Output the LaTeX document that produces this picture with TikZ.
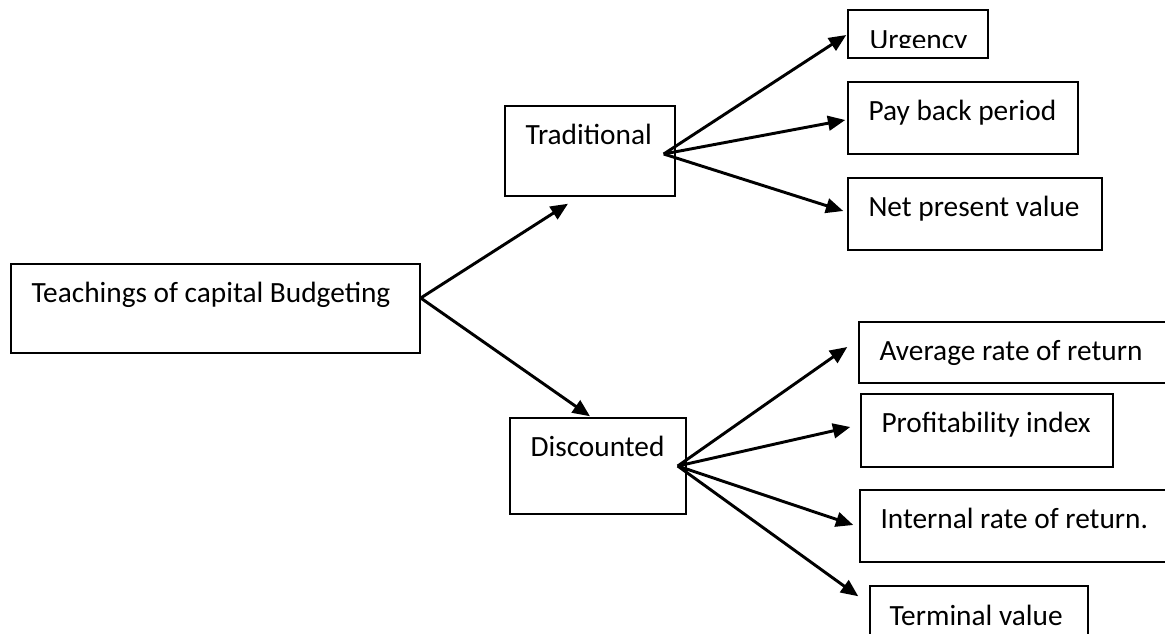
\documentclass[tikz,border=0pt]{standalone}
\usepackage{fontspec}
\setmainfont{Carlito}
\usetikzlibrary{arrows.meta,fit}

\tikzset{
    box/.style={draw,rectangle,line width=1.1pt,inner sep=0pt},
    lbl/.style={anchor=base west,inner sep=0pt,font=\fontsize{22}{26}\selectfont},
    fan/.style={->,>={Triangle[length=13pt,width=11pt]},line width=2.2pt},
}

\begin{document}
\begin{tikzpicture}[x=0.75pt,y=-0.75pt]
            \path[use as bounding box,fill=white] (0,0) rectangle (1165,633);

            % boxes, placed by their corners (px, y down)
            \node[box,fit={(11,264) (420,353)}] (teach) {};
            \node[box,fit={(505,106) (675,196)}] (trad) {};
            \node[box,fit={(510,418) (686,514)}] (disc) {};
            \node[box,fit={(848,10) (988,58)}] (urg) {};
            \node[box,fit={(848,82) (1078,154)}] (pay) {};
            \node[box,fit={(848,178) (1102,250)}] (npv) {};
            \node[box,fit={(859,322) (1190,383)}] (arr) {};
            \node[box,fit={(861,394) (1113,467)}] (pi) {};
            \node[box,fit={(860,490) (1190,562)}] (irr) {};
            \node[box,fit={(870,586) (1088,660)}] (term) {};

            \foreach \n/\t in {teach/Teachings of capital Budgeting, trad/Traditional, disc/Discounted,
                               pay/Pay back period, npv/Net present value, arr/Average rate of return,
                               pi/Profitability index, irr/Internal rate of return.}
                \node[lbl] (\n txt) at ([shift={(21,39)}]\n.north west) {\t};
            \node[lbl] (term txt) at ([shift={(20,40)}]term.north west) {Terminal value};

            \begin{scope}   % text cut off by the box
                \clip (urg.north west) rectangle ([shift={(0,-11)}]urg.south east);
                \node[lbl] (urg txt) at ([shift={(22,40.5)}]urg.north west) {Urgency};
            \end{scope}

            \coordinate (teach fan) at ([shift={(0,-10.5)}]teach.east);
            \coordinate (trad fan) at ([shift={(-12,3)}]trad.east);
            \coordinate (disc fan) at ([shift={(-9,0)}]disc.east);

            \draw[fan] (teach fan) -- ([shift={(-22,7)}]trad.south);
            \draw[fan] (teach fan) -- ([shift={(-8,-1)}]disc.north);

            \foreach \n/\dx/\dy in {urg/-1/1, pay/-2/2, npv/-4/-3}
                \draw[fan] (trad fan) -- ([shift={(\dx,\dy)}]\n.west);
            \foreach \n/\dx/\dy in {arr/-11/-5.5, pi/-10/-3.5, irr/-6/-1}
                \draw[fan] (disc fan) -- ([shift={(\dx,\dy)}]\n.west);
            \draw[fan] (disc fan) -- ([shift={(-11,11)}]term.north west);
        \end{tikzpicture}
\end{document}
